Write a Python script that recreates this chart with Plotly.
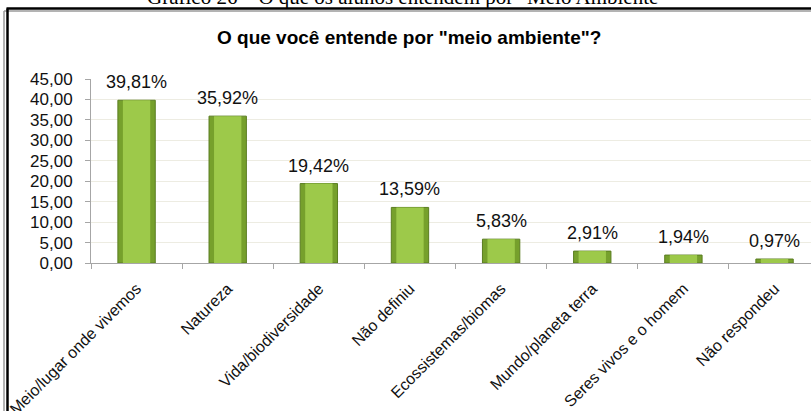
import plotly.graph_objects as go

categories = ["Meio/lugar onde vivemos", "Natureza", "Vida/biodiversidade", "Não definiu",
              "Ecossistemas/biomas", "Mundo/planeta terra", "Seres vivos e o homem", "Não respondeu"]
values = [39.81, 35.92, 19.42, 13.59, 5.83, 2.91, 1.94, 0.97]
y_ticks = [0, 5, 10, 15, 20, 25, 30, 35, 40, 45]

title_text = 'O que você entende por "meio ambiente"?'
caption_text = 'Gráfico 26 – O que os alunos entendem por "Meio Ambiente"'

W, H = 811, 411
L, R, T, B = 91, 0, 79, 148
PW, PH = W - L - R, H - T - B

def px(x):
    return (x - L) / PW

def py(y):
    return (H - B - y) / PH

fig = go.Figure()
fig.add_trace(go.Bar(x=categories, y=values, width=0.41,
                     marker=dict(color="#76A02C", line=dict(color="#5A7D20", width=1)),
                     hoverinfo="skip"))
fig.add_trace(go.Bar(x=categories, y=values, width=0.30,
                     marker=dict(color="#9DC94A", line=dict(width=0)),
                     hoverinfo="skip"))

for c, v in zip(categories, values):
    fig.add_annotation(x=c, y=v, text=f"{v:.2f}%".replace(".", ","), showarrow=False,
                       yanchor="bottom", yshift=6,
                       font=dict(family="Liberation Sans", size=18, color="#111111"))

# title
fig.add_annotation(xref="paper", yref="paper", x=px(409), y=py(37), text=f"<b>{title_text}</b>",
                   showarrow=False, xanchor="center", yanchor="middle",
                   font=dict(family="Liberation Sans", size=19, color="#000000"))
# caption (cut off at top, as in the reference)
fig.add_annotation(xref="paper", yref="paper", x=px(407), y=py(-3), text=caption_text,
                   showarrow=False, xanchor="center", yanchor="middle",
                   font=dict(family="Liberation Serif", size=21, color="#000000"))

# frame lines
fig.add_shape(type="line", xref="paper", yref="paper", x0=px(4), x1=px(811), y0=py(11), y1=py(11),
              line=dict(color="#9A9A9A", width=1.5))
fig.add_shape(type="line", xref="paper", yref="paper", x0=px(4), x1=px(4), y0=py(11), y1=py(411),
              line=dict(color="#9A9A9A", width=1.5))
fig.add_shape(type="line", xref="paper", yref="paper", x0=px(6.5), x1=px(811), y0=py(8.5), y1=py(8.5),
              line=dict(color="#000000", width=2.5))
fig.add_shape(type="line", xref="paper", yref="paper", x0=px(7.5), x1=px(7.5), y0=py(8.5), y1=py(411),
              line=dict(color="#000000", width=2.5))

fig.update_layout(
    width=W, height=H, margin=dict(l=L, r=R, t=T, b=B, autoexpand=False),
    paper_bgcolor="white", plot_bgcolor="white",
    barmode="overlay", showlegend=False, separators=",.",
    font=dict(family="Liberation Sans", color="#111111"),
)
fig.update_xaxes(range=[-0.5, -0.5 + PW / 91.14], tickangle=-45, tickson="boundaries",
                 ticks="outside", ticklen=5, tickcolor="#A6A6A6", ticklabelstandoff=9,
                 showline=True, linecolor="#A6A6A6", linewidth=1, showgrid=False,
                 tickfont=dict(size=16, color="#111111"))
fig.update_yaxes(range=[0, 45], tickvals=y_ticks, tickformat=".2f",
                 ticks="outside", ticklen=5, tickcolor="#A6A6A6", ticklabelstandoff=9,
                 showline=True, linecolor="#A6A6A6", linewidth=1,
                 showgrid=True, gridcolor="#EDECE2", gridwidth=1, zeroline=False,
                 tickfont=dict(size=17, color="#111111"))

fig.write_html("out.html", config={"displayModeBar": False},
               post_script="document.body.style.margin='0';document.body.style.overflow='hidden';")
